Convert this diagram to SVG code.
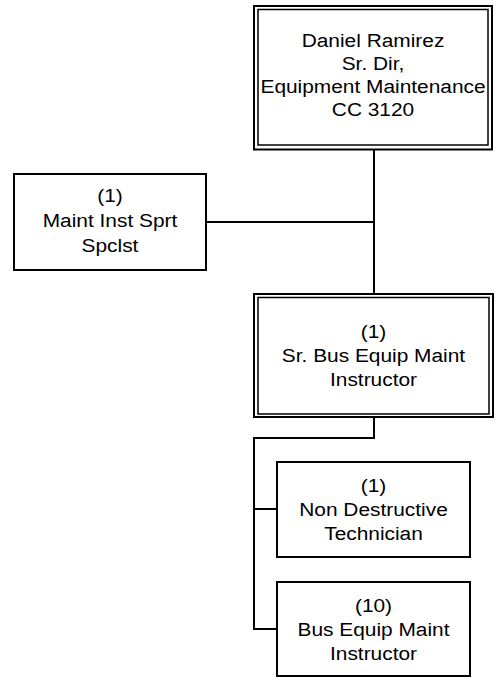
<svg xmlns="http://www.w3.org/2000/svg" width="504" height="677" viewBox="0 0 504 677">
<style>
.box{fill:#fff;stroke:#000;stroke-width:2}
.inner{fill:none;stroke:#000;stroke-width:1.5}
.conn{fill:none;stroke:#000;stroke-width:2}
text{font-family:"Liberation Sans",Arial,sans-serif;font-size:18px;fill:#000;text-anchor:middle}
</style>
<rect width="504" height="677" fill="#fff"/>
<g id="connectors">
<path class="conn" d="M374,150 V294"/>
<path class="conn" d="M206,222 H374"/>
<path class="conn" d="M374,417 V438 H254 V629 H277"/>
<path class="conn" d="M254,509 H277"/>
</g>
<g id="node-director">
<rect class="box" x="254" y="6" width="238" height="143.5"/>
<rect class="inner" x="258" y="9.5" width="230" height="135.5"/>
<g transform="translate(373,0) scale(1.16,1)">
<text x="0" y="47">Daniel Ramirez</text>
<text x="0" y="70">Sr. Dir,</text>
<text x="0" y="93">Equipment Maintenance</text>
<text x="0" y="116">CC 3120</text>
</g>
</g>
<g id="node-spclst">
<rect class="box" x="14" y="174" width="192" height="96"/>
<g transform="translate(110,0) scale(1.16,1)">
<text x="0" y="202">(1)</text>
<text x="0" y="227">Maint Inst Sprt</text>
<text x="0" y="252">Spclst</text>
</g>
</g>
<g id="node-sr-instructor">
<rect class="box" x="254" y="294" width="239" height="123"/>
<rect class="inner" x="258" y="297.5" width="231" height="116.5"/>
<g transform="translate(373.5,0) scale(1.16,1)">
<text x="0" y="338">(1)</text>
<text x="0" y="362">Sr. Bus Equip Maint</text>
<text x="0" y="386">Instructor</text>
</g>
</g>
<g id="node-ndt">
<rect class="box" x="277" y="462" width="193" height="95"/>
<g transform="translate(373.5,0) scale(1.16,1)">
<text x="0" y="492">(1)</text>
<text x="0" y="516">Non Destructive</text>
<text x="0" y="540">Technician</text>
</g>
</g>
<g id="node-instructor">
<rect class="box" x="277" y="582" width="193" height="94"/>
<g transform="translate(373.5,0) scale(1.16,1)">
<text x="0" y="612">(10)</text>
<text x="0" y="636">Bus Equip Maint</text>
<text x="0" y="660">Instructor</text>
</g>
</g>
</svg>
